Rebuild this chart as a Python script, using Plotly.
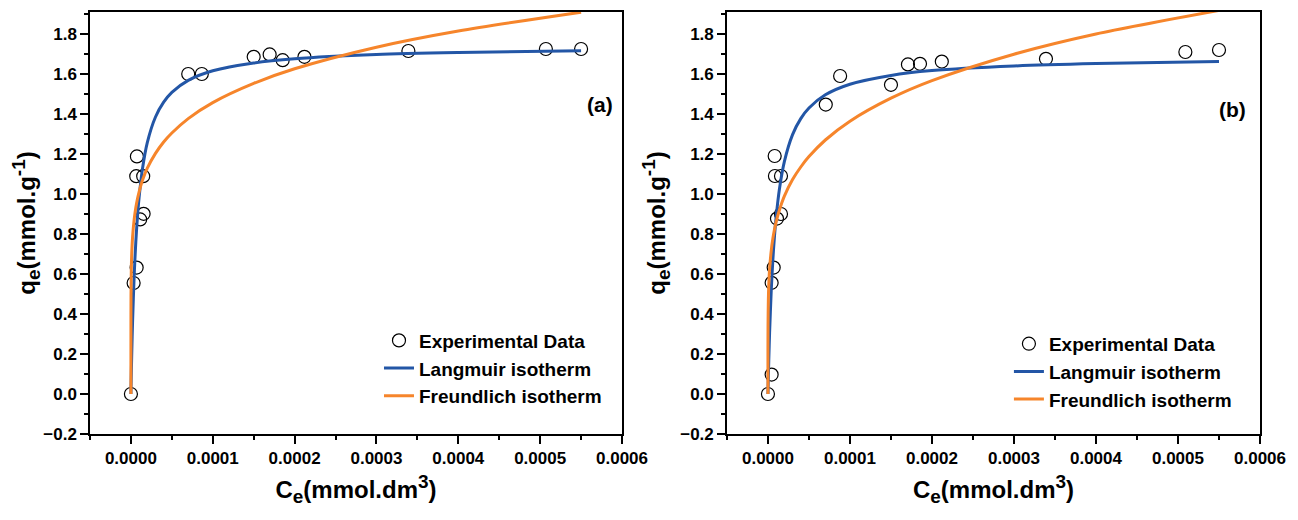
import plotly.graph_objects as go

# ---------------- data ----------------
# Panel (a) experimental points
ce_a = [0.0, 3.3e-6, 7.0e-6, 1.13e-5, 1.55e-5, 6.5e-6, 1.5e-5, 7.3e-6,
        7.0e-5, 8.66e-5, 1.5e-4, 1.695e-4, 1.854e-4, 2.12e-4, 3.39e-4, 5.07e-4, 5.5e-4]
qe_a = [0.0, 0.555, 0.632, 0.873, 0.901, 1.089, 1.089, 1.188,
        1.60, 1.60, 1.686, 1.698, 1.669, 1.686, 1.715, 1.725, 1.725]

# Panel (b) experimental points
ce_b = [0.0, 4.5e-6, 4.5e-6, 7.0e-6, 1.1e-5, 1.59e-5, 8.5e-6, 1.59e-5, 8.2e-6,
        7.05e-5, 8.8e-5, 1.5e-4, 1.707e-4, 1.854e-4, 2.12e-4, 3.39e-4, 5.09e-4, 5.5e-4]
qe_b = [0.0, 0.097, 0.556, 0.632, 0.877, 0.90, 1.09, 1.09, 1.19,
        1.447, 1.59, 1.546, 1.648, 1.651, 1.662, 1.676, 1.71, 1.72]

# Fitted isotherm curves
ce_fit = [0.0, 1e-8, 1e-7, 5e-7, 1e-6, 2e-6, 4e-6, 6e-6, 8e-6, 1e-5, 1.4e-5, 2e-5,
          3e-5, 4e-5, 5e-5, 7e-5, 1e-4, 1.5e-4, 2e-4, 3e-4, 4e-4, 5.5e-4]
lang_a = [0, 0.002, 0.022, 0.106, 0.200, 0.359, 0.595, 0.762, 0.887, 0.983, 1.123, 1.257,
          1.385, 1.459, 1.508, 1.568, 1.616, 1.655, 1.676, 1.697, 1.707, 1.716]
freu_a = [0, 0.338, 0.487, 0.629, 0.702, 0.783, 0.874, 0.932, 0.976, 1.011, 1.067, 1.129,
          1.203, 1.260, 1.305, 1.377, 1.457, 1.553, 1.626, 1.734, 1.815, 1.909]
lang_b = [0, 0.002, 0.018, 0.088, 0.167, 0.305, 0.516, 0.672, 0.791, 0.885, 1.025, 1.162,
          1.297, 1.377, 1.430, 1.496, 1.549, 1.593, 1.617, 1.640, 1.652, 1.663]
freu_b = [0, 0.216, 0.343, 0.473, 0.543, 0.624, 0.716, 0.777, 0.823, 0.861, 0.920, 0.989,
          1.072, 1.135, 1.187, 1.270, 1.364, 1.479, 1.567, 1.699, 1.800, 1.918]

names = ["Experimental Data", "Langmuir isotherm", "Freundlich isotherm"]
panel_labels = ["(a)", "(b)"]
x_title = "C<sub><span style='font-size:19px'>e</span></sub>(mmol.dm<sup><span style='font-size:19px'>3</span></sup>)"
y_title = "q<sub><span style='font-size:19px'>e</span></sub>(mmol.g<sup><span style='font-size:19px'>-1</span></sup>)"

# ---------------- styling ----------------
FONT = "Liberation Sans, Arial, sans-serif"
BLUE = "#2356A6"
ORANGE = "#F6852B"

fig = go.Figure()

panels = [
    (ce_a, qe_a, lang_a, freu_a, "x", "y", "legend"),
    (ce_b, qe_b, lang_b, freu_b, "x2", "y2", "legend2"),
]
for ce, qe, lg, fr, xa, ya, leg in panels:
    fig.add_trace(go.Scatter(
        x=ce, y=qe, mode="markers", name=names[0], xaxis=xa, yaxis=ya, legend=leg,
        marker=dict(symbol="circle-open", size=13, color="black", line=dict(width=1.2)),
    ))
    fig.add_trace(go.Scatter(
        x=ce_fit, y=lg, mode="lines", name=names[1], xaxis=xa, yaxis=ya, legend=leg,
        line=dict(color=BLUE, width=3, shape="spline", smoothing=0.8),
    ))
    fig.add_trace(go.Scatter(
        x=ce_fit, y=fr, mode="lines", name=names[2], xaxis=xa, yaxis=ya, legend=leg,
        line=dict(color=ORANGE, width=3, shape="spline", smoothing=0.8),
    ))

tickfont = dict(family=FONT, size=17, color="black", weight="bold")
titlefont = dict(family=FONT, size=24, color="black", weight="bold")

def xaxis(domain, anchor):
    return dict(
        domain=domain, anchor=anchor, range=[-0.00005, 0.0006],
        tickmode="linear", tick0=0, dtick=0.0001, tickformat=".4f",
        showline=True, linecolor="black", linewidth=1.5, mirror=True,
        ticks="outside", ticklen=8, tickwidth=1.5, tickcolor="black",
        minor=dict(ticks="outside", ticklen=4, tickwidth=1.5, tickcolor="black", dtick=0.00005),
        showgrid=False, zeroline=False, tickfont=tickfont,
        title=dict(text=x_title, font=titlefont, standoff=14),
    )

def yaxis(anchor):
    return dict(
        domain=[0, 1], anchor=anchor, range=[-0.2, 1.91],
        tickmode="linear", tick0=0, dtick=0.2, tickformat=".1f",
        showline=True, linecolor="black", linewidth=1.5, mirror=True,
        ticks="outside", ticklen=8, tickwidth=1.5, tickcolor="black",
        minor=dict(ticks="outside", ticklen=4, tickwidth=1.5, tickcolor="black", dtick=0.1),
        showgrid=False, zeroline=False, tickfont=tickfont,
        title=dict(text=y_title, font=titlefont, standoff=8),
    )

legfont = dict(family=FONT, size=19, color="black", weight="bold")
labfont = dict(family=FONT, size=21, color="black", weight="bold")

fig.update_layout(
    width=1298, height=520,
    margin=dict(l=82, r=46, t=2, b=94),
    paper_bgcolor="white", plot_bgcolor="white",
    showlegend=True,
    xaxis=xaxis([0, 0.4547], "y"),
    yaxis=yaxis("x"),
    xaxis2=xaxis([0.5444, 1.0], "y2"),
    yaxis2=yaxis("x2"),
    legend=dict(x=0.247, y=0.2665, xanchor="left", yanchor="top", font=legfont,
                bgcolor="rgba(0,0,0,0)", borderwidth=0, tracegroupgap=0),
    legend2=dict(x=0.7854, y=0.2586, xanchor="left", yanchor="top", font=legfont,
                 bgcolor="rgba(0,0,0,0)", borderwidth=0, tracegroupgap=0),
    annotations=[
        dict(text=panel_labels[0], xref="x domain", yref="y domain", x=0.9586, y=0.78,
             xanchor="center", yanchor="middle", showarrow=False, font=labfont),
        dict(text=panel_labels[1], xref="x2 domain", yref="y2 domain", x=0.948, y=0.768,
             xanchor="center", yanchor="middle", showarrow=False, font=labfont),
    ],
)

fig.write_html("out.html")
